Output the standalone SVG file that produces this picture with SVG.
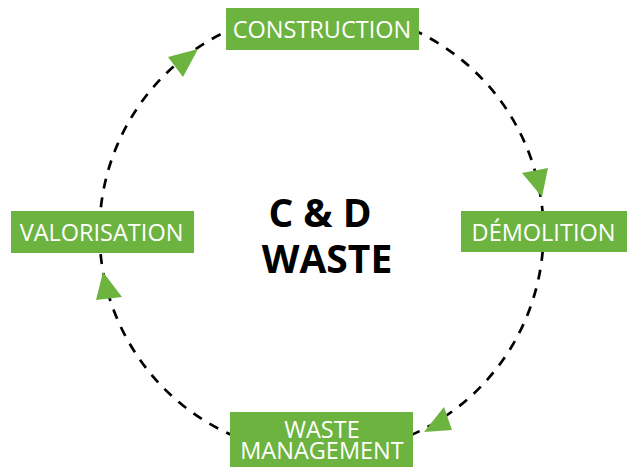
<svg xmlns="http://www.w3.org/2000/svg" width="628" height="467" viewBox="0 0 628 467">
<style>
.box{fill:#6db33f}
.lbl{font-family:"Open Sans","Noto Sans",sans-serif;font-size:23.5px;fill:#fff;text-anchor:middle}
.arc{fill:none;stroke:#000;stroke-width:2.7;stroke-dasharray:10 9}
.head{fill:#6db33f}
.title{font-family:"Open Sans","Noto Sans",sans-serif;font-weight:bold;font-size:39px;fill:#000;text-anchor:middle}
</style>
<rect width="628" height="467" fill="#fff"/>
<g id="connectors">
<circle class="arc" cx="321.5" cy="232" r="222"/>
<polygon class="head" points="168,57 198,49 183,77"/>
<polygon class="head" points="522,173 548,168 542,197"/>
<polygon class="head" points="424,432 444,407 452,430"/>
<polygon class="head" points="96,300 103,272 122,297"/>
</g>
<g id="construction">
<rect class="box" x="226" y="8" width="193" height="42"/>
<text class="lbl" x="322" y="37.5">CONSTRUCTION</text>
</g>
<g id="demolition">
<rect class="box" x="461" y="211" width="166" height="41"/>
<text class="lbl" x="543.5" y="240.5">DÉMOLITION</text>
</g>
<g id="valorisation">
<rect class="box" x="11" y="211" width="183" height="42"/>
<text class="lbl" x="101.5" y="240.5">VALORISATION</text>
</g>
<g id="waste-management">
<rect class="box" x="230" y="412" width="183" height="55"/>
<text class="lbl" x="322" y="437.5">WASTE</text>
<text class="lbl" x="322" y="458.5">MANAGEMENT</text>
</g>
<g id="center">
<text class="title" x="320" y="227">C &amp; D</text>
<text class="title" x="327" y="273">WASTE</text>
</g>
</svg>
